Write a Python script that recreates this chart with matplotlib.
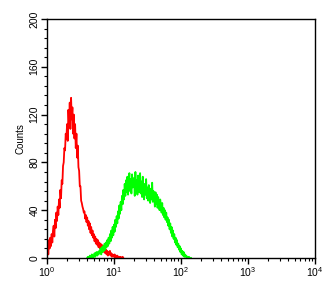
import matplotlib
matplotlib.use('Agg')
import matplotlib.pyplot as plt
import numpy as np
from matplotlib.ticker import LogLocator, MultipleLocator, FixedLocator

plt.rcParams['font.family'] = ['Liberation Sans', 'DejaVu Sans']
plt.rcParams['mathtext.fontset'] = 'custom'
plt.rcParams['mathtext.rm'] = 'Liberation Sans'

# counts per channel, channels every 0.01 decade
red_start = 0.00
red_counts = [5, 13, 3, 15, 8, 17, 10, 20, 13, 23,
              27, 18, 32, 25, 38, 31, 43, 36, 49, 42,
              57, 50, 65, 62, 77, 80, 92, 90, 104, 100,
              112, 98, 124, 112, 130, 108, 134, 116, 126, 104,
              120, 100, 112, 92, 104, 84, 94, 76, 73, 60,
              60, 48, 46, 43, 41, 38, 39, 33, 36, 30,
              34, 27, 31, 24, 29, 21, 26, 19, 23, 17,
              20, 14, 18, 12, 16, 11, 15, 9, 13, 8,
              12, 7, 11, 6, 9, 5, 8, 4, 7, 3,
              6, 2, 5, 3, 6, 2, 4, 1, 3, 2,
              1, 3, 0, 2, 0, 2, 1, 0, 1, 0, 1, 0, 0, 1, 0]

green_start = 0.60
green_counts = [0, 1, 0, 0, 2, 0, 1, 3, 0, 2,
                1, 4, 1, 4, 5, 2, 5, 3, 6, 4,
                8, 3, 9, 5, 10, 6, 12, 7, 13, 9,
                15, 10, 17, 12, 20, 14, 23, 17, 26, 19,
                28, 22, 32, 26, 35, 29, 39, 33, 44, 37,
                47, 40, 52, 45, 57, 49, 62, 52, 65, 55,
                68, 53, 63, 71, 56, 66, 54, 70, 59, 61,
                67, 52, 72, 56, 65, 53, 69, 58, 55, 71,
                54, 64, 51, 68, 56, 49, 62, 53, 66, 50,
                59, 48, 61, 51, 46, 58, 49, 63, 47, 56,
                52, 43, 55, 45, 53, 42, 51, 44, 40, 49,
                44, 38, 46, 36, 42, 34, 40, 32, 38, 30,
                34, 27, 32, 24, 29, 21, 26, 18, 23, 16,
                20, 13, 17, 11, 15, 9, 12, 7, 10, 5,
                8, 3, 6, 2, 5, 1, 3, 1, 2, 0,
                1, 0, 1, 0, 0, 0]

y_ticks = [0, 40, 80, 120, 160, 200]
x_decades = [0, 1, 2, 3, 4]

fig = plt.figure(figsize=(3.33, 2.87), dpi=100)
ax = fig.add_axes([0.141, 0.101, 0.805, 0.833])

def channels(start, n):
    return 10 ** (start + 0.01 * np.arange(n))

ax.plot(channels(red_start, len(red_counts)), red_counts, color='#ff0000', lw=1.3)
ax.plot(channels(green_start, len(green_counts)), green_counts, color='#00ff00', lw=1.3)

ax.set_xscale('log')
ax.set_xlim(1, 1e4)
ax.set_ylim(0, 200)
ax.xaxis.set_major_locator(FixedLocator([10 ** d for d in x_decades]))
ax.xaxis.set_minor_locator(LogLocator(base=10, subs=np.arange(2, 10)))
ax.set_xticklabels([r'$\mathregular{10^{%d}}$' % d for d in x_decades])
ax.yaxis.set_major_locator(FixedLocator(y_ticks))
ax.yaxis.set_minor_locator(MultipleLocator(8))
ax.set_yticklabels([str(v) for v in y_ticks], rotation=90, va='center')

ax.tick_params(which='major', length=4, width=1, labelsize=7.5, pad=1.5)
ax.tick_params(which='minor', length=2.5, width=0.8)
ax.set_ylabel('Counts', fontsize=7, labelpad=3)
for s in ax.spines.values():
    s.set_linewidth(1.0)

fig.savefig('out.png', dpi=100)
